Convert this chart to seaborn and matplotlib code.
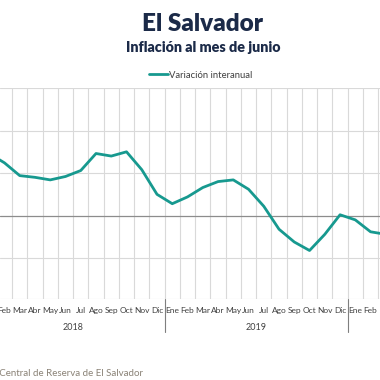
import numpy as np
import pandas as pd
import matplotlib
matplotlib.use("Agg")
import matplotlib.pyplot as plt
import matplotlib.transforms as mtransforms
import seaborn as sns

# months Ene 2018 .. Mar 2020
meses = ["Ene", "Feb", "Mar", "Abr", "May", "Jun", "Jul", "Ago", "Sep", "Oct", "Nov", "Dic",
         "Ene", "Feb", "Mar", "Abr", "May", "Jun", "Jul", "Ago", "Sep", "Oct", "Nov", "Dic",
         "Ene", "Feb", "Mar"]
anios = ["2018", "2019"]
variacion = [0.73, 0.62, 0.47, 0.45, 0.42, 0.46, 0.53, 0.73, 0.70, 0.75, 0.54, 0.25,
             0.14, 0.22, 0.33, 0.40, 0.42, 0.31, 0.11, -0.16, -0.31, -0.41, -0.22, 0.01,
             -0.05, -0.19, -0.22]

df = pd.DataFrame({"k": np.arange(len(meses)), "valor": variacion})

sns.set_style("white")
plt.rcParams["font.family"] = ["Lato", "DejaVu Sans"]

fig = plt.figure(figsize=(3.8, 3.8), dpi=100)
ax = fig.add_axes([0, 1 - 299 / 380, 1, (299 - 88) / 380])

sns.lineplot(data=df, x="k", y="valor", ax=ax, color="#17998f", lw=2.0,
             label="Variación interanual", solid_joinstyle="round", solid_capstyle="round", zorder=5)

# grid
ax.set_yticks([-0.5, 0.5, 1.0, 1.5])
ax.yaxis.grid(True, color="#d9d9d9", lw=0.8)
ax.axhline(0, color="#8c8c8c", lw=0.9, zorder=3)
ax.axhline(-0.98, color="#d9d9d9", lw=0.8)
ax.set_xticks(np.arange(len(meses)) + 0.5, minor=True)
ax.xaxis.grid(True, which="minor", color="#d9d9d9", lw=0.8)
ax.set_xticks(np.arange(len(meses)))
ax.set_xticklabels(meses, fontsize=6, color="#404040")
ax.tick_params(axis="x", which="both", length=0, pad=6)
ax.tick_params(axis="y", length=0, labelleft=False)
ax.set_xlabel("")
ax.set_ylabel("")
for s in ax.spines.values():
    s.set_visible(False)

ax.set_xlim(0.705, 25.62)
ax.set_ylim(-0.98, 1.5)

# year separators and labels
trans = mtransforms.blended_transform_factory(ax.transData, ax.transAxes)
for sep in [11.5, 23.5]:
    ax.plot([sep, sep], [0, -0.157], color="#7f7f7f", lw=0.8, transform=trans, clip_on=False)
for i, a in enumerate(anios):
    ax.text(5.5 + 12 * i, -0.133, a, transform=trans, ha="center", va="center",
            fontsize=6.5, color="#404040")

ax.legend(loc="center", bbox_to_anchor=(0.529, 0.802), bbox_transform=fig.transFigure,
          frameon=False, fontsize=6.8, handlelength=2.0, handletextpad=0.1,
          labelcolor="#404040")

fig.text(0.534, 0.938, "El Salvador", ha="center", va="center", fontsize=17.5,
         fontweight="heavy", color="#1b2a48")
fig.text(0.534, 0.876, "Inflación al mes de junio", ha="center", va="center", fontsize=10.3,
         fontweight="heavy", color="#1b2a48")
fig.text(143 / 380, 1 - 373 / 380, "Fuente: Banco Central de Reserva de El Salvador",
         ha="right", va="center", fontsize=7, color="#8a8276")

fig.savefig("out.png", dpi=100, facecolor="white")
